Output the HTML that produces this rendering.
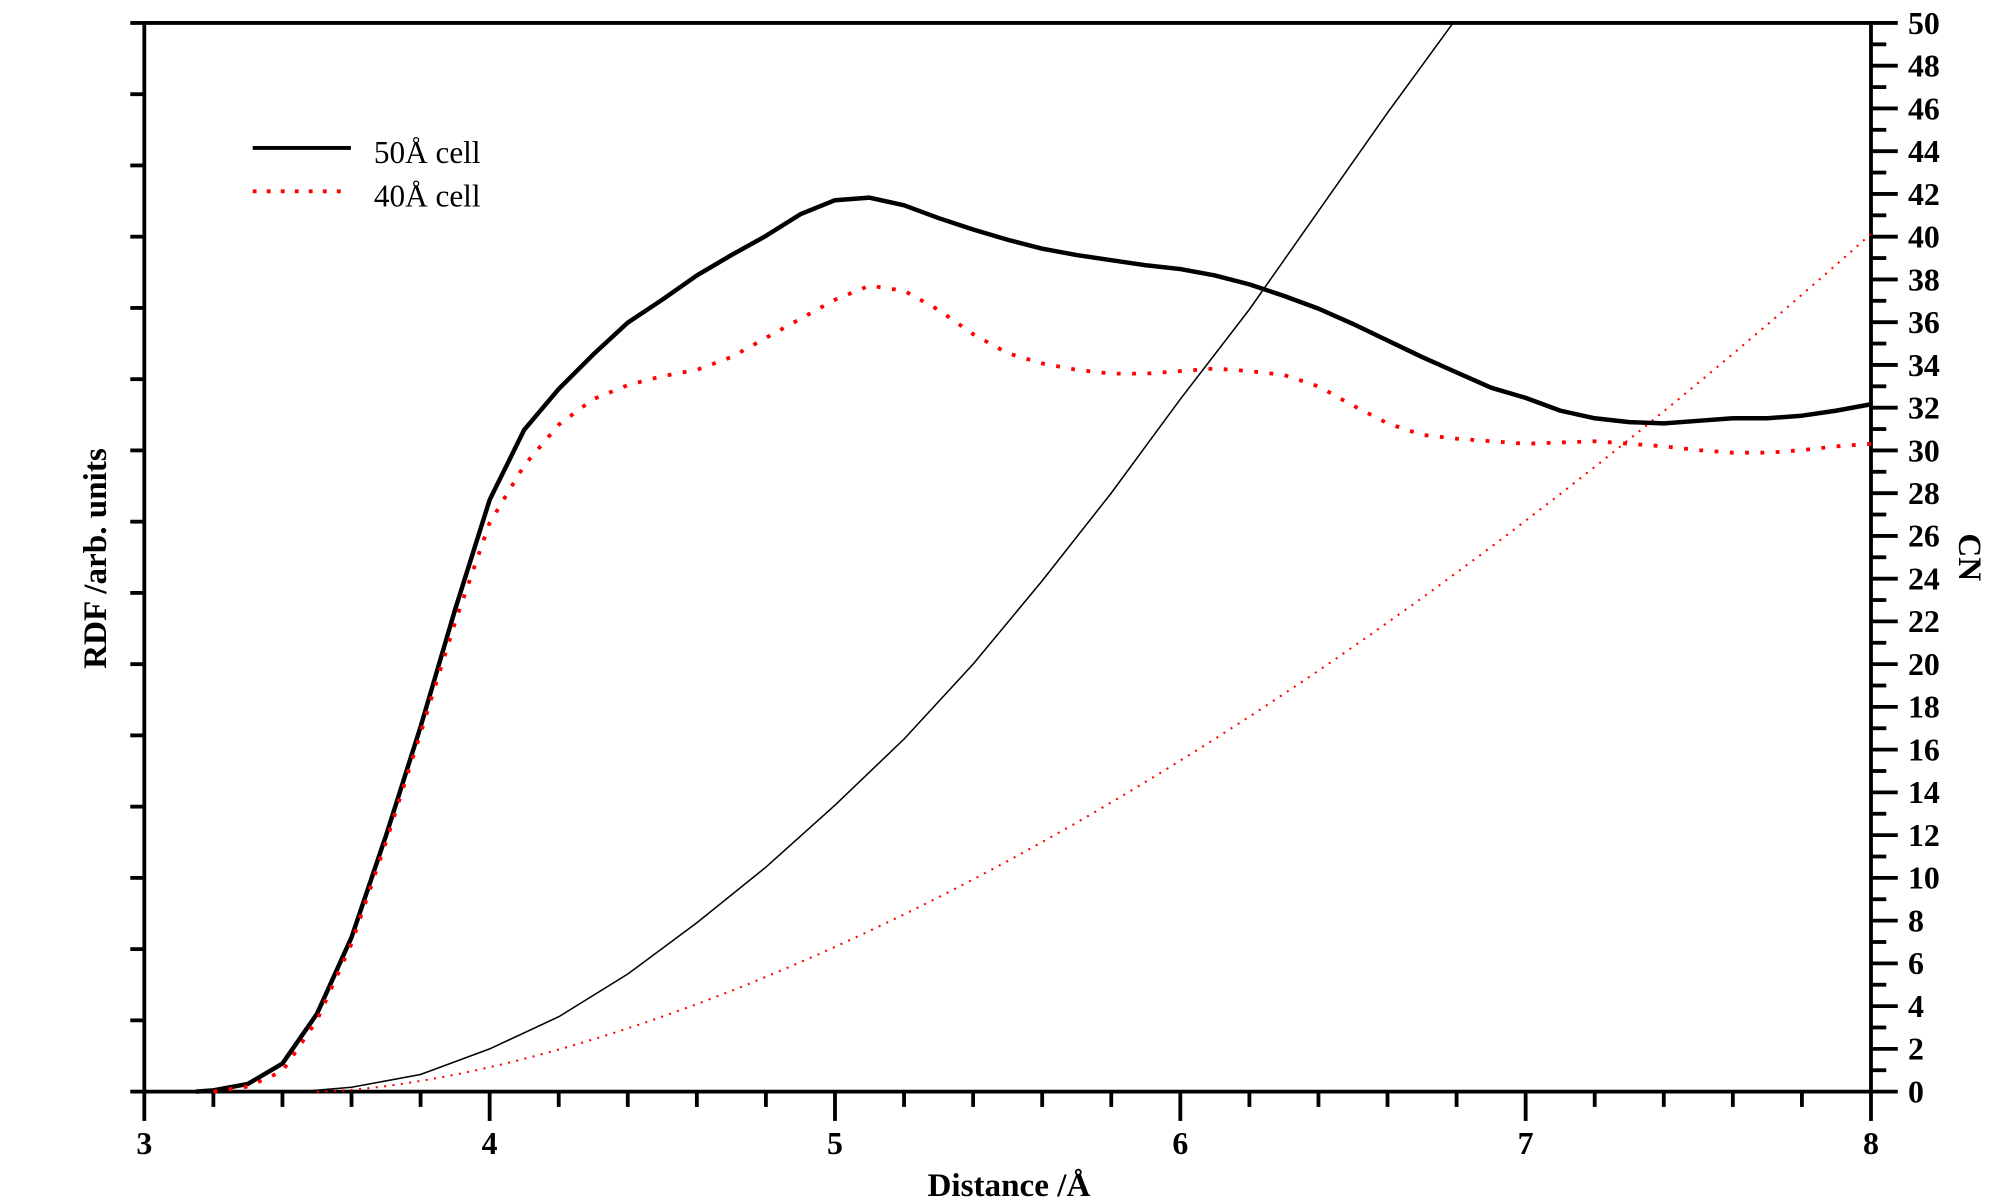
<!DOCTYPE html>
<html><head><meta charset="utf-8"><style>
html,body{margin:0;padding:0;background:#fff;width:2000px;height:1200px;overflow:hidden}
svg{display:block}
text{font-family:"Liberation Serif",serif}
</style></head><body>
<svg id="s" width="2000" height="1200" viewBox="0 0 1568 941" xmlns="http://www.w3.org/2000/svg">
<g id="g"></g>
<line x1="198" y1="116" x2="275" y2="116" stroke="#000" stroke-width="3"/>
<text x="293" y="128" font-size="24.5">50Å cell</text>
<line x1="198" y1="150" x2="275" y2="150" stroke="#f00" stroke-width="3" stroke-dasharray="3 8"/>
<text x="293" y="162" font-size="24.5">40Å cell</text>
<text x="791" y="938" font-size="26" font-weight="bold" text-anchor="middle">Distance /Å</text>
<text transform="translate(83,438) rotate(-90)" font-size="26" font-weight="bold" text-anchor="middle">RDF /arb. units</text>
<text transform="translate(1536,437) rotate(90)" font-size="26" font-weight="bold" text-anchor="middle">CN</text>
</svg>
<script>
var g=document.getElementById('g'),h='';
function X(x){return 113+(x-3)*270.8}
function Yc(c){return 856-c*16.76}
function L(a,b,c,d,w){h+='<line x1="'+a+'" y1="'+b+'" x2="'+c+'" y2="'+d+'" stroke="#000" stroke-width="'+(w||3)+'"/>';}
L(113,18,1467,18);L(113,16.5,113,857.5);L(1467,16.5,1467,857.5);L(113,856,1467,856);
for(var i=0;i<=15;i++){var y=856-i*838/15;L(102,y,113,y);}
for(var i=0;i<=25;i++){var x=X(3+i*0.2);L(x,856,x,i%5==0?879:868);}
for(var i=3;i<=8;i++)h+='<text x="'+X(i)+'" y="905" font-size="25" font-weight="bold" text-anchor="middle">'+i+'</text>';
for(var c=0;c<=50;c++){var y=Yc(c);L(1467,y,c%2==0?1488:1479,y);if(c%2==0)h+='<text x="1496" y="'+(y+8.5)+'" font-size="25" font-weight="bold">'+c+'</text>';}
function P(pts,st){var d='';for(var i=0;i<pts.length;i++)d+=(i?'L':'M')+pts[i][0].toFixed(1)+' '+pts[i][1].toFixed(1);h+='<path d="'+d+'" fill="none" '+st+'/>';}
var bk=[[3.15,856],[3.2,855],[3.3,850],[3.4,834],[3.5,795],[3.6,735],[3.7,655],[3.8,570],[3.9,478],[4.0,392],[4.1,337],[4.2,305],[4.3,278],[4.4,253],[4.5,235],[4.6,216],[4.7,200],[4.8,185],[4.9,168],[5.0,157],[5.1,155],[5.2,161],[5.3,171],[5.4,180],[5.5,188],[5.6,195],[5.7,200],[5.8,204],[5.9,208],[6.0,211],[6.1,216],[6.2,223],[6.3,232],[6.4,242],[6.5,254],[6.6,267],[6.7,280],[6.8,292],[6.9,304],[7.0,312],[7.1,322],[7.2,328],[7.3,331],[7.4,332],[7.5,330],[7.6,328],[7.7,328],[7.8,326],[7.9,322],[8.0,317]];
var rd=[[3.2,856],[3.3,852],[3.4,840],[3.5,800],[3.6,740],[3.7,660],[3.8,575],[3.9,488],[4.0,410],[4.1,365],[4.2,333],[4.3,313],[4.4,302],[4.5,295],[4.6,290],[4.7,280],[4.8,265],[4.9,250],[5.0,235],[5.1,224],[5.2,228],[5.3,243],[5.4,262],[5.5,277],[5.6,285],[5.7,290],[5.8,293],[5.9,293],[6.0,291],[6.1,289],[6.2,291],[6.3,294],[6.4,303],[6.5,318],[6.6,332],[6.7,341],[6.8,344],[6.9,346],[7.0,348],[7.1,347],[7.2,346],[7.3,348],[7.4,350],[7.5,353],[7.6,355],[7.7,355],[7.8,353],[7.9,350],[8.0,348]];
var cb=[[3.45,0],[3.6,0.2],[3.8,0.8],[4,2.0],[4.2,3.5],[4.4,5.5],[4.6,7.9],[4.8,10.5],[5,13.4],[5.2,16.5],[5.4,20],[5.6,23.9],[5.8,28],[6,32.4],[6.2,36.6],[6.4,41.2],[6.6,45.8],[6.79,50]];
var cbp=cb.map(function(p){return [X(p[0]),Yc(p[1])]});
var crp=[];for(var x=3.5;x<=8.0001;x+=0.05){crp.push([X(x),Yc(3.51*Math.pow(x-3.5,1.62))]);}
P(cbp,'stroke="#000" stroke-width="1.2"');
P(crp,'stroke="#f00" stroke-width="1.6" stroke-dasharray="1.6 5"');
P(bk.map(function(p){return [X(p[0]),p[1]]}),'stroke="#000" stroke-width="3.5" stroke-linejoin="round"');
P(rd.map(function(p){return [X(p[0]),p[1]]}),'stroke="#f00" stroke-width="3" stroke-dasharray="3 9"');
g.innerHTML=h;
</script>
</body></html>
